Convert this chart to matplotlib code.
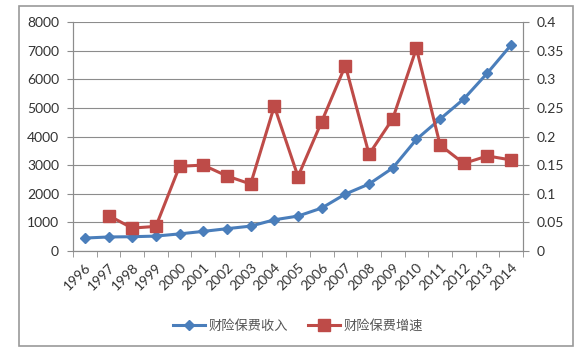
import matplotlib
matplotlib.use("Agg")
import matplotlib.pyplot as plt
from matplotlib.lines import Line2D
from matplotlib.patches import Rectangle

years = [str(y) for y in range(1996, 2015)]
income = [452, 490, 499, 521, 598, 685, 780, 869, 1090, 1220, 1500, 1990, 2340,
          2900, 3900, 4610, 5310, 6220, 7200]
growth_years = years[1:]
growth = [0.062, 0.040, 0.043, 0.148, 0.150, 0.131, 0.117, 0.253, 0.130, 0.226,
          0.324, 0.169, 0.231, 0.354, 0.185, 0.153, 0.166, 0.159]
left_ticks = [0, 1000, 2000, 3000, 4000, 5000, 6000, 7000, 8000]
right_ticks = [0, 0.05, 0.1, 0.15, 0.2, 0.25, 0.3, 0.35, 0.4]
right_labels = ["0", "0.05", "0.1", "0.15", "0.2", "0.25", "0.3", "0.35", "0.4"]
label_income = "财险保费收入"
label_growth = "财险保费增速"

BLUE = "#4A7EBB"
RED = "#BE4B48"
GRID = "#8c8c8c"
TXT = "#333333"

plt.rcParams['font.family'] = ['Lato', 'Noto Sans CJK SC', 'DejaVu Sans']

fig = plt.figure(figsize=(5.86, 3.61), dpi=100)
fig.patches.append(Rectangle((19/586, 1-346/361), (573-19)/586, (346-6)/361,
                             transform=fig.transFigure, fill=False,
                             edgecolor="#9a9a9a", linewidth=1.2))

ax = fig.add_axes([73/586, 1-251/361, (523-73)/586, (251-22)/361])
ax2 = ax.twinx()

x = list(range(len(years)))
xg = [years.index(y) for y in growth_years]

ax.plot(x, income, color=BLUE, lw=2.2, marker="D", ms=5, mfc=BLUE, mec=BLUE, zorder=3)
ax2.plot(xg, growth, color=RED, lw=2.2, marker="s", ms=8, mfc=RED, mec=RED, zorder=3)

ax.set_xlim(-0.5, len(years) - 0.5)
ax.set_ylim(0, 8000)
ax2.set_ylim(0, 0.4)
ax.set_yticks(left_ticks)
ax.set_yticklabels([str(v) for v in left_ticks])
ax2.set_yticks(right_ticks)
ax2.set_yticklabels(right_labels)

ax.grid(axis="y", color=GRID, lw=0.8)
ax.set_axisbelow(True)
ax.set_xticks(x)
ax.set_xticklabels(years, rotation=45, ha="right", va="top", rotation_mode="anchor")
ax.tick_params(axis="x", length=0, pad=7, labelsize=10, colors=TXT)
ax.set_xticks([i - 0.5 for i in range(len(years) + 1)], minor=True)
ax.tick_params(axis="x", which="minor", length=4, color=GRID)
ax.tick_params(axis="y", length=4, color=GRID, labelsize=10, labelcolor=TXT, pad=6)
ax2.tick_params(axis="y", length=4, color=GRID, labelsize=10, labelcolor=TXT, pad=6)

for a in (ax, ax2):
    a.spines["top"].set_visible(False)
    for s in ("left", "right", "bottom"):
        a.spines[s].set_color(GRID)
        a.spines[s].set_linewidth(0.8)

handles = [Line2D([], [], color=BLUE, lw=2.2, marker="D", ms=5),
           Line2D([], [], color=RED, lw=2.2, marker="s", ms=8)]
fig.legend(handles, [label_income, label_growth], loc="center",
           bbox_to_anchor=(298/586, 1-326/361), ncol=2, frameon=False,
           prop={'family': ['Noto Sans CJK SC'], 'size': 9.5}, labelcolor="#555555",
           handlelength=2.4, handletextpad=0.3, columnspacing=1.5)

fig.savefig("out.png", dpi=100)
